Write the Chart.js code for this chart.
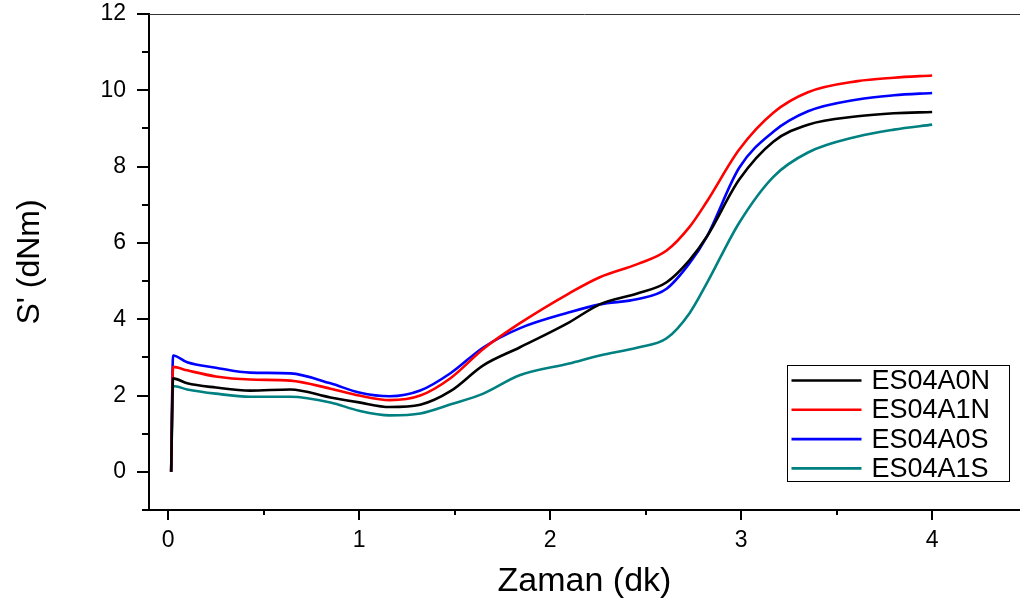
<!DOCTYPE html>
<html>
<head>
<meta charset="utf-8">
<script src="https://cdn.jsdelivr.net/npm/chart.js@4"></script>
<style>
  html, body { margin: 0; padding: 0; background: #fff; overflow: hidden; }
</style>
</head>
<body>
<canvas id="curveChart" width="1020" height="604"></canvas>
<script>
// time (dk) and torque readings S' (dNm)
var time = [0.016, 0.026, 0.1, 0.25, 0.43, 0.64, 0.85, 1.0, 1.16, 1.32, 1.48, 1.65, 1.84, 2.1, 2.26, 2.46, 2.61, 2.73, 2.82, 2.99, 3.17, 3.35, 3.61, 3.8, 4.0];
var es04a0n = [0, 2.45, 2.32, 2.21, 2.13, 2.16, 1.95, 1.82, 1.7, 1.76, 2.12, 2.79, 3.26, 3.92, 4.39, 4.68, 4.97, 5.55, 6.16, 7.66, 8.66, 9.1, 9.32, 9.4, 9.43];
var es04a1n = [0, 2.75, 2.66, 2.5, 2.42, 2.39, 2.18, 2.0, 1.88, 2.0, 2.46, 3.22, 3.89, 4.68, 5.1, 5.45, 5.8, 6.42, 7.08, 8.45, 9.42, 9.95, 10.24, 10.33, 10.39];
var es04a0s = [0, 3.05, 2.87, 2.73, 2.6, 2.58, 2.32, 2.08, 1.98, 2.13, 2.59, 3.26, 3.76, 4.18, 4.39, 4.53, 4.8, 5.47, 6.16, 7.97, 8.92, 9.45, 9.76, 9.87, 9.93];
var es04a1s = [0, 2.25, 2.16, 2.05, 1.97, 1.97, 1.82, 1.6, 1.48, 1.53, 1.77, 2.05, 2.53, 2.84, 3.05, 3.26, 3.5, 4.16, 4.94, 6.53, 7.74, 8.37, 8.79, 8.97, 9.1];

var seriesNames = ['ES04A0N', 'ES04A1N', 'ES04A0S', 'ES04A1S'];
var seriesColors = ['#000000', '#ff0000', '#0000ff', '#008080'];
var xTicks = [0, 1, 2, 3, 4];
var yTicks = [0, 2, 4, 6, 8, 10, 12];

var FONT = '"Liberation Sans", Arial, sans-serif';

function toPoints(ys) {
  return ys.map(function(y, i) { return { x: time[i], y: y }; });
}

var allSeries = [es04a0n, es04a1n, es04a0s, es04a1s];
var datasets = allSeries.map(function(ys, i) {
  return {
    label: seriesNames[i],
    data: toPoints(ys),
    borderColor: seriesColors[i],
    backgroundColor: seriesColors[i],
    borderWidth: 2.6,
    pointRadius: 0,
    cubicInterpolationMode: 'monotone',
    fill: false
  };
});

// tick marks (major + minor), top frame line and the boxed legend
var decorations = {
  id: 'decorations',
  afterDraw: function(chart) {
    var c = chart.ctx;
    var xs = chart.scales.x, ys = chart.scales.y;
    var area = chart.chartArea;
    c.save();
    c.strokeStyle = '#000';
    c.lineWidth = 2;
    for (var v = -1; v <= 12; v++) {
      var py = Math.round(ys.getPixelForValue(v));
      var len = (v % 2 === 0) ? 12 : 7;
      c.beginPath();
      c.moveTo(area.left - len, py);
      c.lineTo(area.left, py);
      c.stroke();
    }
    for (var t = 0; t <= 4.5; t += 0.5) {
      var px = Math.round(xs.getPixelForValue(t));
      var l = (t % 1 === 0) ? 10 : 5;
      c.beginPath();
      c.moveTo(px, area.bottom);
      c.lineTo(px, area.bottom + l);
      c.stroke();
    }
    // thin top line
    c.strokeStyle = '#333';
    c.lineWidth = 1;
    c.beginPath();
    c.moveTo(area.left, area.top + 0.5);
    c.lineTo(area.right, area.top + 0.5);
    c.stroke();

    // legend box
    var bx = 787.5, by = 365.5, bw = 222, bh = 116;
    c.fillStyle = '#fff';
    c.fillRect(bx, by, bw, bh);
    c.strokeStyle = '#000';
    c.lineWidth = 1;
    c.strokeRect(bx, by, bw, bh);
    c.font = '27px ' + FONT;
    c.textBaseline = 'middle';
    c.textAlign = 'left';
    chart.data.datasets.forEach(function(ds, i) {
      var cy = by + 15 + i * 29.3;
      c.strokeStyle = ds.borderColor;
      c.lineWidth = 2.6;
      c.beginPath();
      c.moveTo(bx + 4, cy);
      c.lineTo(bx + 74, cy);
      c.stroke();
      c.fillStyle = '#000';
      c.fillText(ds.label, bx + 84, cy + 1);
    });
    c.restore();
  }
};

var ctx = document.getElementById('curveChart').getContext('2d');
var curveChart = new Chart(ctx, {
  type: 'line',
  data: { datasets: datasets },
  plugins: [decorations],
  options: {
    responsive: false,
    animation: false,
    devicePixelRatio: 1,
    layout: { padding: { top: 14, left: 0, right: 0, bottom: 0 } },
    plugins: {
      legend: { display: false },
      tooltip: { enabled: false }
    },
    scales: {
      x: {
        type: 'linear',
        min: -0.1,
        max: 4.46,
        afterBuildTicks: function(scale) {
          scale.ticks = xTicks.map(function(v) { return { value: v }; });
        },
        afterFit: function(scale) {
          scale.height = 94;
          scale.paddingLeft = 0;
          scale.paddingRight = 0;
        },
        grid: { display: false, drawTicks: false },
        border: { display: true, color: '#000', width: 2 },
        ticks: {
          color: '#000',
          padding: 17,
          maxRotation: 0,
          font: { family: FONT, size: 23 }
        },
        title: {
          display: true,
          text: 'Zaman (dk)',
          color: '#000',
          padding: { top: 0, bottom: 2 },
          font: { family: FONT, size: 34 }
        }
      },
      y: {
        min: -1,
        max: 12,
        afterBuildTicks: function(scale) {
          scale.ticks = yTicks.map(function(v) { return { value: v }; });
        },
        afterFit: function(scale) {
          scale.width = 149;
          scale.paddingTop = 0;
          scale.paddingBottom = 0;
        },
        grid: { display: false, drawTicks: false },
        border: { display: true, color: '#000', width: 2 },
        ticks: {
          color: '#000',
          padding: 23,
          font: { family: FONT, size: 23 }
        },
        title: {
          display: true,
          text: "S' (dNm)",
          color: '#000',
          padding: { top: 11, bottom: 0 },
          font: { family: FONT, size: 32 }
        }
      }
    }
  }
});
</script>
</body>
</html>
